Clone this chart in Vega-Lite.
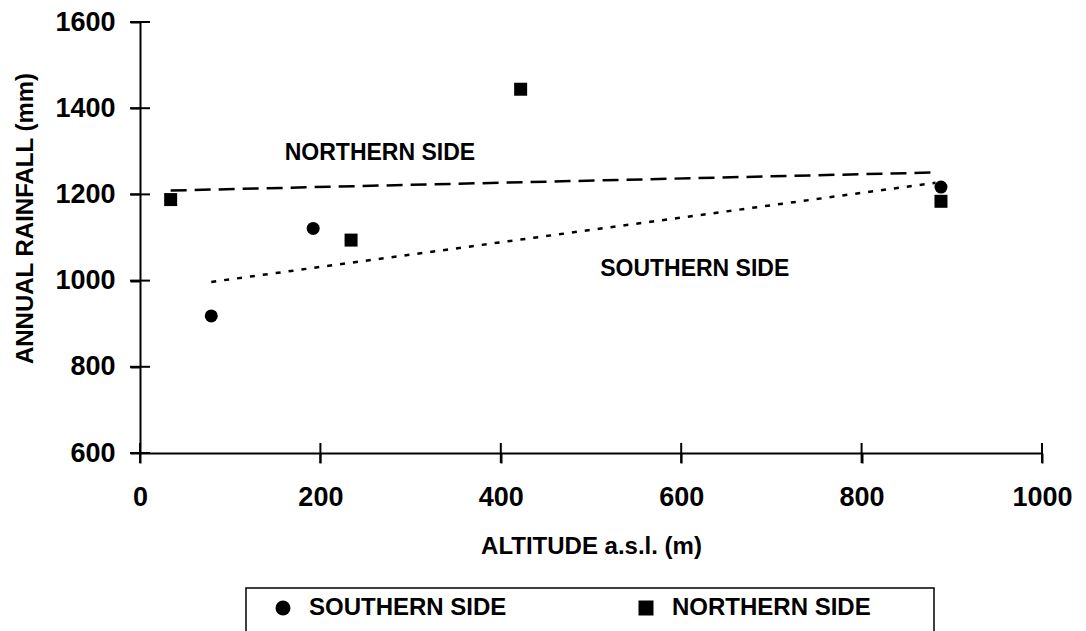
{
  "$schema": "https://vega.github.io/schema/vega-lite/v6.json",
  "width": 902,
  "height": 431,
  "autosize": {"type": "none"},
  "padding": {"left": 140, "top": 22, "right": 44, "bottom": 178},
  "background": "white",
  "config": {
    "view": {"stroke": null},
    "font": "Liberation Sans",
    "legend": {"strokeColor": "black", "strokeWidth": 1.5},
    "axis": {
      "grid": false,
      "domainColor": "black",
      "domainWidth": 2,
      "tickColor": "black",
      "tickWidth": 2,
      "labelColor": "black",
      "titleColor": "black",
      "labelFont": "Liberation Sans",
      "titleFont": "Liberation Sans",
      "labelFontWeight": "bold",
      "titleFontWeight": "bold"
    }
  },
  "datasets": {
    "pts": [
      {"side": "SOUTHERN SIDE", "alt": 79, "rain": 918},
      {"side": "SOUTHERN SIDE", "alt": 192, "rain": 1121},
      {"side": "SOUTHERN SIDE", "alt": 888, "rain": 1217},
      {"side": "NORTHERN SIDE", "alt": 34, "rain": 1188},
      {"side": "NORTHERN SIDE", "alt": 234, "rain": 1094},
      {"side": "NORTHERN SIDE", "alt": 422, "rain": 1444},
      {"side": "NORTHERN SIDE", "alt": 888, "rain": 1184}
    ],
    "trend": [
      {"side": "NORTHERN SIDE", "alt": 34, "rain": 1209},
      {"side": "NORTHERN SIDE", "alt": 884, "rain": 1251},
      {"side": "SOUTHERN SIDE", "alt": 79, "rain": 997},
      {"side": "SOUTHERN SIDE", "alt": 882, "rain": 1227}
    ],
    "notes": [
      {"label": "NORTHERN SIDE", "alt": 266, "rain": 1295},
      {"label": "SOUTHERN SIDE", "alt": 615, "rain": 1026}
    ],
    "xticks": [{"v": 0}, {"v": 200}, {"v": 400}, {"v": 600}, {"v": 800}, {"v": 1000}],
    "yticks": [{"v": 600}, {"v": 800}, {"v": 1000}, {"v": 1200}, {"v": 1400}, {"v": 1600}]
  },
  "layer": [
    {
      "data": {"name": "pts"},
      "mark": {"type": "point", "filled": true, "color": "black", "opacity": 1, "size": 169},
      "encoding": {
        "x": {"field": "alt", "type": "quantitative",
              "scale": {"domain": [0, 1000], "nice": false, "zero": false},
              "axis": {"orient": "bottom", "values": [0, 200, 400, 600, 800, 1000], "tickSize": 10, "format": "d",
                       "labelFontSize": 27, "labelPadding": 21, "labelFlush": false,
                       "title": "ALTITUDE a.s.l. (m)", "titleFontSize": 24, "titleY": 100, "titleBaseline": "alphabetic"}},
        "y": {"field": "rain", "type": "quantitative",
              "scale": {"domain": [600, 1600], "nice": false, "zero": false},
              "axis": {"orient": "left", "values": [600, 800, 1000, 1200, 1400, 1600], "tickSize": 10, "format": "d",
                       "labelFontSize": 27, "labelPadding": 15, "labelFlush": false,
                       "title": "ANNUAL RAINFALL (mm)", "titleFontSize": 24, "titleAngle": -90,
                       "titleX": -108, "titleY": 196, "titleBaseline": "alphabetic", "titleAlign": "center"}},
        "shape": {"field": "side", "type": "nominal",
                  "scale": {"domain": ["SOUTHERN SIDE", "NORTHERN SIDE"], "range": ["circle", "square"]},
                  "legend": {
                    "orient": "none", "legendX": 106, "legendY": 566, "direction": "horizontal",
                    "title": " ", "titleOrient": "right", "titleFontSize": 44, "titlePadding": 55,
                    "titleAnchor": "start", "titleBaseline": "top",
                    "padding": 8,
                    "symbolSize": 225, "symbolFillColor": "black", "symbolStrokeColor": "black", "symbolOffset": 17,
                    "labelFont": "Liberation Sans", "labelFontWeight": "bold", "labelFontSize": 24, "labelColor": "black",
                    "labelOffset": 14, "columnPadding": 110, "labelLimit": 500
                  }}
      }
    },
    {
      "data": {"name": "xticks"},
      "mark": {"type": "tick", "orient": "vertical", "color": "black", "size": 20, "thickness": 2, "opacity": 1},
      "encoding": {
        "x": {"field": "v", "type": "quantitative", "scale": {"domain": [0, 1000], "nice": false, "zero": false}},
        "y": {"datum": 600, "type": "quantitative", "scale": {"domain": [600, 1600], "nice": false, "zero": false}}
      }
    },
    {
      "data": {"name": "yticks"},
      "mark": {"type": "tick", "orient": "horizontal", "color": "black", "size": 20, "thickness": 2, "opacity": 1},
      "encoding": {
        "y": {"field": "v", "type": "quantitative", "scale": {"domain": [600, 1600], "nice": false, "zero": false}},
        "x": {"datum": 0, "type": "quantitative", "scale": {"domain": [0, 1000], "nice": false, "zero": false}}
      }
    },
    {
      "data": {"name": "trend"},
      "mark": {"type": "line", "color": "black", "strokeWidth": 2.5},
      "encoding": {
        "x": {"field": "alt", "type": "quantitative", "scale": {"domain": [0, 1000], "nice": false, "zero": false}},
        "y": {"field": "rain", "type": "quantitative", "scale": {"domain": [600, 1600], "nice": false, "zero": false}},
        "strokeDash": {"field": "side", "type": "nominal",
                       "scale": {"domain": ["NORTHERN SIDE", "SOUTHERN SIDE"], "range": [[16, 8], [5, 8]]},
                       "legend": null}
      }
    },
    {
      "data": {"name": "notes"},
      "mark": {"type": "text", "color": "black", "font": "Liberation Sans", "fontWeight": "bold", "fontSize": 23, "align": "center", "baseline": "middle"},
      "encoding": {
        "x": {"field": "alt", "type": "quantitative", "scale": {"domain": [0, 1000], "nice": false, "zero": false}},
        "y": {"field": "rain", "type": "quantitative", "scale": {"domain": [600, 1600], "nice": false, "zero": false}},
        "text": {"field": "label"}
      }
    }
  ]
}
